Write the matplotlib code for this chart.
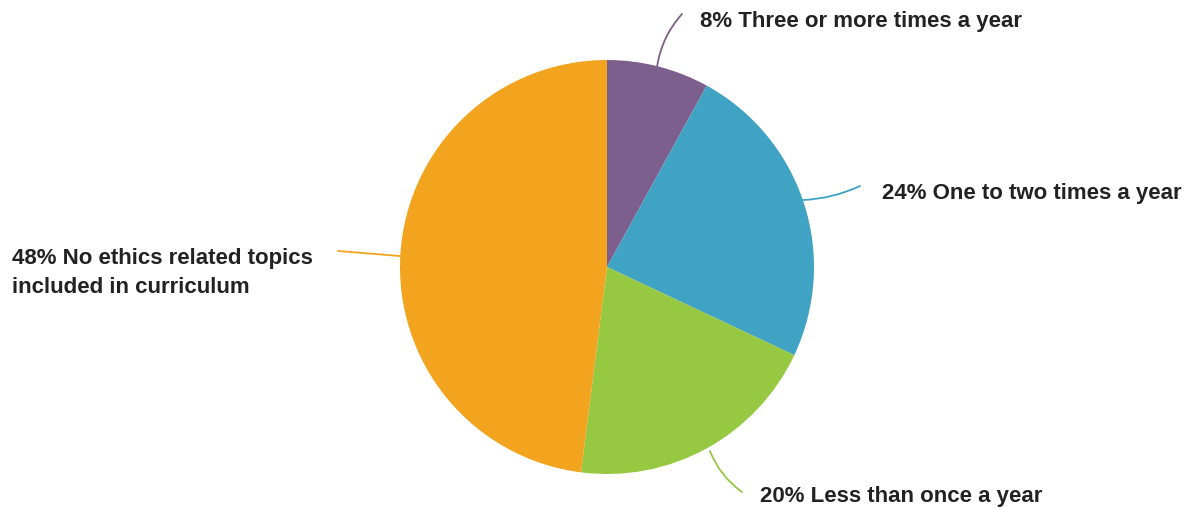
import matplotlib.pyplot as plt

labels = ["8% Three or more times a year",
          "24% One to two times a year",
          "20% Less than once a year",
          "48% No ethics related topics\nincluded in curriculum"]
shares = [8, 24, 20, 48]
colors = ["#7D5F8E", "#40A3C3", "#96C842", "#F2A41F"]

# leader lines: (start on wedge, end near text) in pixel coords, text anchor
lead_start = [(657, 68), (803, 201), (710, 452), (400, 257)]
lead_end = [(682, 15), (860, 187), (742, 493), (338, 252)]
text_pos = [(700, 22), (882, 194), (760, 497), (12, 273)]
curve = [-0.15, 0.1, 0.15, 0.0]

W, H = 1188, 510
fig = plt.figure(figsize=(W / 100, H / 100), dpi=100)
ax = fig.add_axes([0, 0, 1, 1])

ax.pie(shares, colors=colors, startangle=90, counterclock=False,
       center=(607, H - 268), radius=207, frame=True,
       wedgeprops=dict(linewidth=0))
ax.set_xlim(0, W)
ax.set_ylim(0, H)
ax.set_aspect("auto")
ax.axis("off")

for i in range(len(labels)):
    x0, y0 = lead_start[i]
    x1, y1 = lead_end[i]
    ax.annotate("", xy=(x1, H - y1), xytext=(x0, H - y0),
                arrowprops=dict(arrowstyle="-", color=colors[i], lw=1.3,
                                connectionstyle="arc3,rad=%.2f" % curve[i],
                                shrinkA=0, shrinkB=0))
    tx, ty = text_pos[i]
    ax.text(tx, H - ty, labels[i], fontsize=16, fontweight="bold",
            family="Liberation Sans", color="#222222",
            ha="left", va="center", linespacing=1.5)

fig.savefig("out.png", dpi=100)
